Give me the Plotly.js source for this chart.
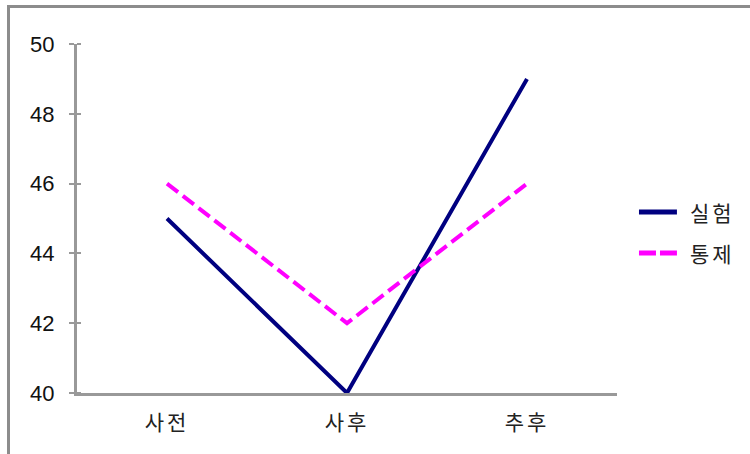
<!DOCTYPE html>
<html><head><meta charset="utf-8">
<script src="https://cdn.plot.ly/plotly-3.0.1.min.js"></script>
<style>
html,body{margin:0;padding:0;background:#fff;}
#wrap{position:relative;width:750px;height:454px;overflow:hidden;}
#frame{position:absolute;left:7px;top:5px;width:760px;height:470px;border:3px solid #8c8c8c;box-sizing:border-box;pointer-events:none;z-index:5;}
#chart{position:absolute;left:0;top:0;width:750px;height:454px;}
#chart .xtick text, #chart .annotation-text {letter-spacing:3px;}
</style></head>
<body><div id="wrap"><div id="chart"></div><div id="frame"></div></div>
<script>
const categories = ['사전', '사후', '추후'];
const seriesNames = ['실험', '통제'];
const experimental = [45, 40, 49];
const control = [46, 42, 46];
const yTicks = [40, 42, 44, 46, 48, 50];

const numFont = 'Liberation Sans, Arial, sans-serif';
const krFont = '"Noto Sans CJK KR", sans-serif';
const colors = ['#000080', '#ff00ff'];
const dashes = ['solid', '14px,6px'];
const legendDashes = ['solid', '17px,4px'];
const series = [experimental, control];

const data = series.map((vals, i) => ({
  x: categories, y: vals, name: seriesNames[i], type: 'scatter', mode: 'lines',
  line: {color: colors[i], width: 4, dash: dashes[i]}, showlegend: false
}));

// manual legend (to match sample length/spacing)
const legY = [0.5186, 0.401];
const shapes = seriesNames.map((n, i) => ({
  type: 'line', xref: 'paper', yref: 'paper', x0: 1.0407, x1: 1.111, y0: legY[i], y1: legY[i],
  line: {color: colors[i], width: 5, dash: legendDashes[i]}
}));
const annotations = seriesNames.map((n, i) => ({
  text: n, xref: 'paper', yref: 'paper', x: 1.137, y: legY[i], xanchor: 'left', yanchor: 'middle',
  showarrow: false, font: {family: krFont, size: 21, color: '#222'}
}));

const layout = {
  width: 750, height: 454,
  margin: {l: 77, r: 133, t: 44, b: 61},
  paper_bgcolor: '#fff', plot_bgcolor: '#fff',
  font: {family: numFont, size: 22, color: '#000'},
  showlegend: false,
  shapes: shapes, annotations: annotations,
  xaxis: {type: 'category', range: [-0.5, 2.5], showline: true, linecolor: '#999', linewidth: 3,
          showgrid: false, zeroline: false, ticks: '', fixedrange: true, ticklabelstandoff: 9,
          tickfont: {family: krFont, size: 21, color: '#222'}},
  yaxis: {range: [40, 50], tickvals: yTicks, showline: true, linecolor: '#999', linewidth: 3,
          showgrid: false, zeroline: false, ticks: 'outside', ticklen: 5, tickcolor: '#999', tickwidth: 2,
          ticklabelstandoff: 10, tickfont: {family: numFont, size: 22, color: '#111'},
          minor: {tickvals: yTicks, ticks: 'inside', ticklen: 4, tickcolor: '#999', tickwidth: 2, showgrid: false}},
};
Plotly.newPlot('chart', data, layout, {displayModeBar: false, staticPlot: true});
</script></body></html>
